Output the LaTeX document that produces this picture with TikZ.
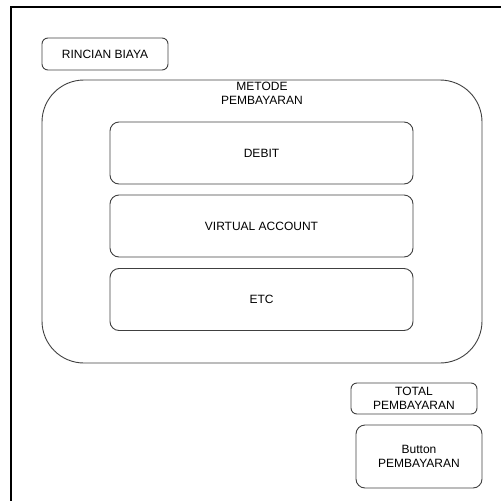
\documentclass[tikz,border=0pt]{standalone}
\usepackage{fontspec}
\setmainfont{Liberation Sans}

\tikzset{
  box/.style={draw=black!75, line width=0.9pt, rounded corners=6pt, inner sep=0pt,
    align=center, font=\fontsize{12}{14}\selectfont},
  option/.style={box, minimum width=303pt, minimum height=62pt, rounded corners=9pt}
}

\begin{document}
\begin{tikzpicture}[x=1pt, y=-1pt]
  \useasboundingbox (0,0) rectangle (501,501);

  % frame of the page
  \draw[line width=1.2pt] (11,501) -- (11,7) -- (501,7);

  \node[box, minimum width=126pt, minimum height=32pt] (rincian) at (105,54) {RINCIAN BIAYA};

  \node[box, minimum width=440pt, minimum height=283pt, rounded corners=42pt] (metode) at (262,221.5) {};
  \node[font=\fontsize{12}{14}\selectfont, align=center, below=2pt, inner sep=0pt] (metodelbl) at (metode.north) {METODE\\PEMBAYARAN};

  \node[option] (debit) at (261.5,153) {DEBIT};
  \node[option] (virtual) at (261.5,226) {VIRTUAL ACCOUNT};
  \node[option] (etc) at (261.5,299.5) {ETC};

  \node[box, minimum width=126pt, minimum height=31pt] (total) at (414,398.5) {TOTAL\\PEMBAYARAN};
  \node[box, minimum width=126pt, minimum height=63pt, rounded corners=9pt] (button) at (419,456.5) {Button\\PEMBAYARAN};
\end{tikzpicture}
\end{document}
